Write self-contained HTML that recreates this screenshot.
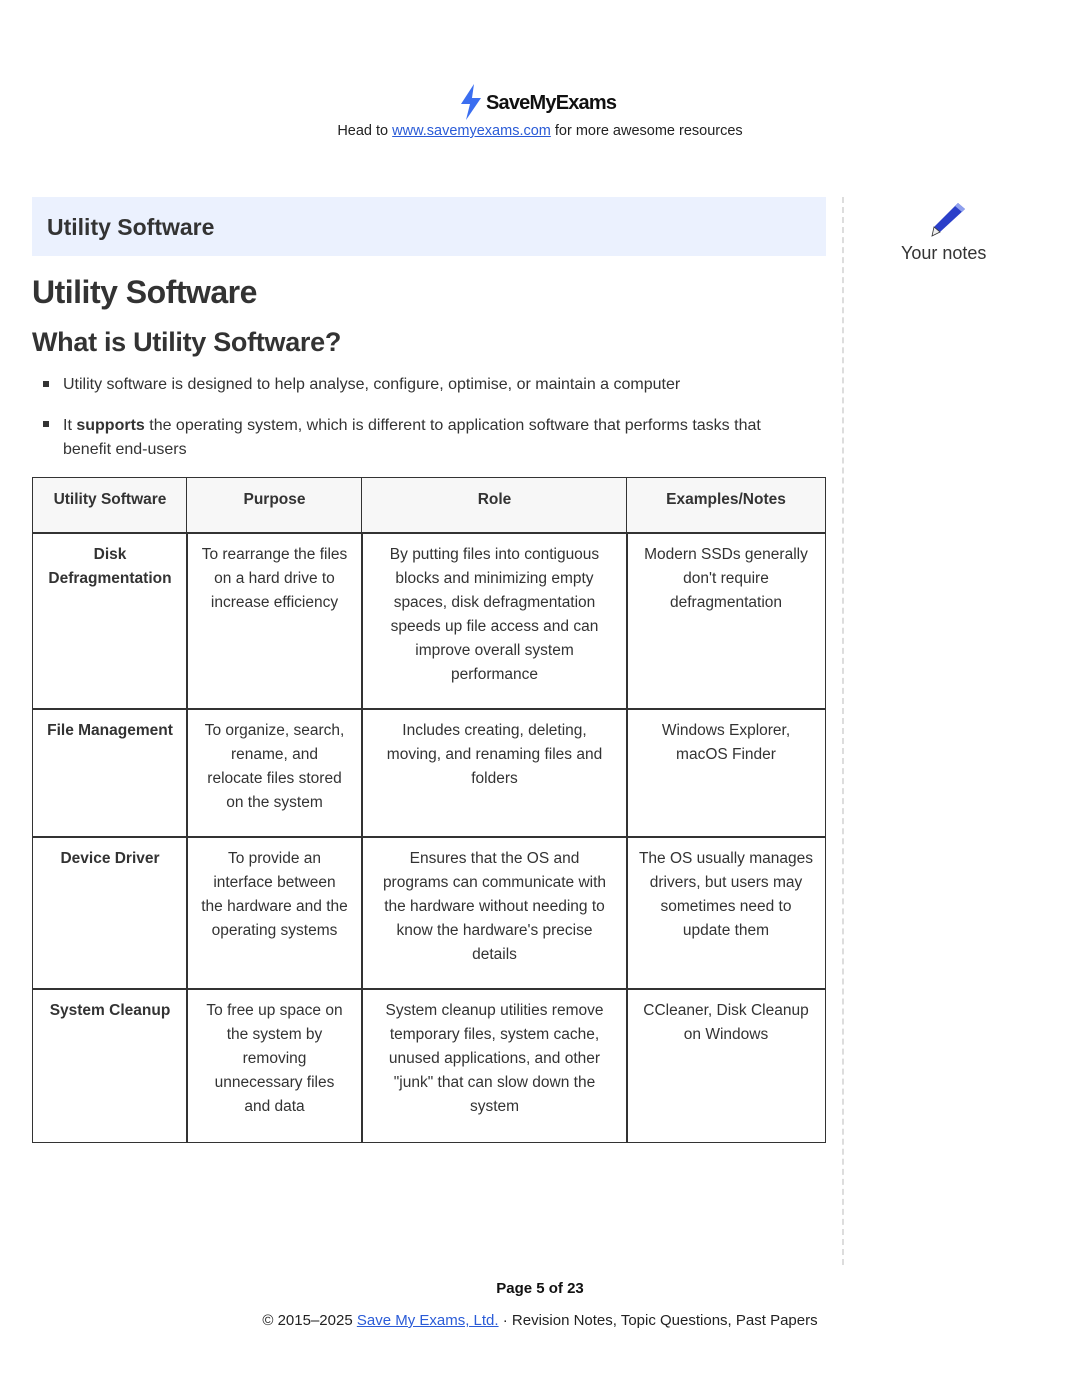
<!DOCTYPE html>
<html><head><meta charset="utf-8">
<style>
body{margin:0;background:#fff;font-family:"Liberation Sans",sans-serif;color:#222;}
.p{position:relative;width:1080px;height:1397px;overflow:hidden;}
.a{position:absolute;}
.c{position:absolute;border:1.5px solid #333;box-sizing:border-box;text-align:center;font-size:15.5px;line-height:24px;padding-top:10px;color:#333;}
.h{background:#f7f7f7;font-weight:bold;padding-top:10px;}
.b{font-weight:bold;}
a{color:#2a5bd7;}
</style></head><body><div class="p">
<svg class="a" style="left:458px;top:84px" width="26" height="36" viewBox="0 0 26 36"><path d="M16 0 L3 20 L12 20 L8 36 L23 14 L14 14 Z" fill="#3b6ef0"/></svg>
<div class="a b" style="left:486px;top:92px;font-size:20px;letter-spacing:-0.8px;color:#111">SaveMyExams</div>
<div class="a" style="left:0;width:1080px;top:123px;text-align:center;font-size:14.5px;color:#222">Head to <a href="#">www.savemyexams.com</a> for more awesome resources</div>

<div class="a" style="left:32px;top:197px;width:794px;height:59px;background:#ebf1fe"></div>
<div class="a b" style="left:47px;top:214px;font-size:23px;color:#333">Utility Software</div>
<div class="a" style="left:842px;top:197px;height:1068px;border-left:2px dashed #ddd"></div>
<svg class="a" style="left:928px;top:200px" width="40" height="38" viewBox="0 0 40 38"><path d="M30 3 L37 9 L12 32 L4 36 L6 27 Z" fill="#2b3fc9"/><path d="M30 3 L37 9 L34 12 L27 6Z" fill="#8fa0ee"/><path d="M6 27 L12 32 L4 36Z" fill="#eee" stroke="#333" stroke-width="0.8"/></svg>
<div class="a" style="left:901px;top:243px;font-size:18px;color:#333">Your notes</div>

<div class="a b" style="left:32px;top:274px;font-size:32px;color:#333;letter-spacing:-0.5px">Utility Software</div>
<div class="a b" style="left:32px;top:327px;font-size:27px;color:#333;letter-spacing:-0.3px">What is Utility Software?</div>
<div class="a" style="left:43px;top:381px;width:6px;height:6px;background:#333"></div>
<div class="a" style="left:63px;top:376px;font-size:16px;color:#333">Utility software is designed to help analyse, configure, optimise, or maintain a computer</div>
<div class="a" style="left:43px;top:421px;width:6px;height:6px;background:#333"></div>
<div class="a" style="left:63px;top:414px;font-size:16px;line-height:24px;color:#333">It <b>supports</b> the operating system, which is different to application software that performs tasks that<br>benefit end-users</div>

<div class="c h" style="left:32px;top:477px;width:156px;height:57px">Utility Software</div>
<div class="c h" style="left:186px;top:477px;width:177px;height:57px">Purpose</div>
<div class="c h" style="left:361px;top:477px;width:267px;height:57px">Role</div>
<div class="c h" style="left:626px;top:477px;width:200px;height:57px">Examples/Notes</div>

<div class="c b" style="left:32px;top:532px;width:156px;height:178px">Disk<br>Defragmentation</div>
<div class="c" style="left:186px;top:532px;width:177px;height:178px">To rearrange the files<br>on a hard drive to<br>increase efficiency</div>
<div class="c" style="left:361px;top:532px;width:267px;height:178px">By putting files into contiguous<br>blocks and minimizing empty<br>spaces, disk defragmentation<br>speeds up file access and can<br>improve overall system<br>performance</div>
<div class="c" style="left:626px;top:532px;width:200px;height:178px">Modern SSDs generally<br>don't require<br>defragmentation</div>

<div class="c b" style="left:32px;top:708px;width:156px;height:130px">File Management</div>
<div class="c" style="left:186px;top:708px;width:177px;height:130px">To organize, search,<br>rename, and<br>relocate files stored<br>on the system</div>
<div class="c" style="left:361px;top:708px;width:267px;height:130px">Includes creating, deleting,<br>moving, and renaming files and<br>folders</div>
<div class="c" style="left:626px;top:708px;width:200px;height:130px">Windows Explorer,<br>macOS Finder</div>

<div class="c b" style="left:32px;top:836px;width:156px;height:154px">Device Driver</div>
<div class="c" style="left:186px;top:836px;width:177px;height:154px">To provide an<br>interface between<br>the hardware and the<br>operating systems</div>
<div class="c" style="left:361px;top:836px;width:267px;height:154px">Ensures that the OS and<br>programs can communicate with<br>the hardware without needing to<br>know the hardware's precise<br>details</div>
<div class="c" style="left:626px;top:836px;width:200px;height:154px">The OS usually manages<br>drivers, but users may<br>sometimes need to<br>update them</div>

<div class="c b" style="left:32px;top:988px;width:156px;height:155px">System Cleanup</div>
<div class="c" style="left:186px;top:988px;width:177px;height:155px">To free up space on<br>the system by<br>removing<br>unnecessary files<br>and data</div>
<div class="c" style="left:361px;top:988px;width:267px;height:155px">System cleanup utilities remove<br>temporary files, system cache,<br>unused applications, and other<br>"junk" that can slow down the<br>system</div>
<div class="c" style="left:626px;top:988px;width:200px;height:155px">CCleaner, Disk Cleanup<br>on Windows</div>

<div class="a b" style="left:0;width:1080px;top:1280px;text-align:center;font-size:15px;color:#111">Page 5 of 23</div>
<div class="a" style="left:0;width:1080px;top:1312px;text-align:center;font-size:15px;color:#222">© 2015–2025 <a href="#">Save My Exams, Ltd.</a> · Revision Notes, Topic Questions, Past Papers</div>
</div></body></html>
